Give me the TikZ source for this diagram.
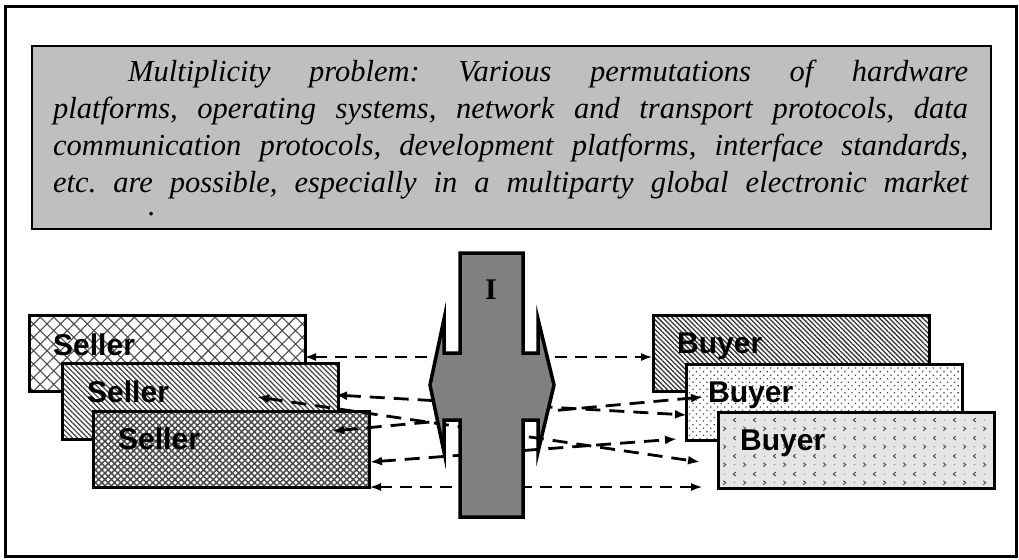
\documentclass[tikz,border=0pt]{standalone}
\usepackage{fontspec}
\setmainfont{Liberation Serif}
\setsansfont{Liberation Sans}
\usetikzlibrary{patterns,patterns.meta,arrows.meta}

\pgfdeclarepatternformonly{chevrons}{\pgfqpoint{0pt}{0pt}}{\pgfqpoint{20pt}{18pt}}{\pgfqpoint{20pt}{18pt}}{%
  \pgfsetlinewidth{0.9pt}%
  \pgfpathmoveto{\pgfqpoint{3.5pt}{6.5pt}}\pgfpathlineto{\pgfqpoint{6pt}{4.5pt}}\pgfpathlineto{\pgfqpoint{3.5pt}{2.5pt}}%
  \pgfpathmoveto{\pgfqpoint{16.5pt}{15.5pt}}\pgfpathlineto{\pgfqpoint{14pt}{13.5pt}}\pgfpathlineto{\pgfqpoint{16.5pt}{11.5pt}}%
  \pgfusepath{stroke}%
  \pgfpathcircle{\pgfqpoint{15pt}{4.5pt}}{0.5pt}%
  \pgfpathcircle{\pgfqpoint{5pt}{13.5pt}}{0.5pt}%
  \pgfusepath{fill}%
}

\begin{document}
\frenchspacing
\begin{tikzpicture}[x=1pt,y=-1pt,
  party/.style={draw=black, line width=3pt, minimum width=276pt, minimum height=76pt,
    inner sep=0pt, anchor=north west},
  partylabel/.style={anchor=base west, inner sep=0pt, font=\fontsize{30}{36}\selectfont\sffamily\bfseries},
  thinlink/.style={line width=1.3pt, dash pattern=on 12pt off 8pt,
    {Latex[length=11pt,width=8pt]}-{Latex[length=11pt,width=8pt]}},
  thicklink/.style={line width=2.8pt, dash pattern=on 15pt off 9pt,
    {Latex[length=12pt,width=9pt]}-{Latex[length=12pt,width=9pt]}},
  hub/.style={fill=gray, draw=black, line width=3.5pt, line join=miter, miter limit=10},
]
\useasboundingbox (0,0) rectangle (1019,559);
\draw[line width=3pt] (5.5,6.5) rectangle (1016.5,556);

% problem statement box
\node[draw=black, line width=2pt, fill=black!25, anchor=north west, inner sep=0pt,
  minimum width=958.5pt, minimum height=182.5pt] (tb) at (31,45.5) {};
\node[anchor=base west, inner sep=0pt] (txt) at (53,82) {%
  \begin{minipage}[t]{915pt}\fontsize{30.5}{36.7}\selectfont\itshape\frenchspacing
  \noindent\hspace*{75pt}\makebox[840pt][s]{Multiplicity problem: Various permutations of hardware}\\
  \makebox[915pt][s]{platforms, operating systems, network and transport protocols, data}\\
  \makebox[915pt][s]{communication protocols, development platforms, interface standards,}\\
  \makebox[915pt][s]{etc. are possible, especially in a multiparty global electronic market}
  \end{minipage}};
\node[anchor=base, inner sep=0pt, font=\fontsize{30.5}{36.7}\selectfont\itshape] (dot) at (152,215) {.};

% sellers
\node[party, preaction={fill=white}, pattern={Hatch[angle=45,distance=9.5pt,line width=1.1pt]}, pattern color=black!70] (s1) at (29,315) {};
\node[partylabel] (s1l) at (53,355) {Seller};
\node[party, preaction={fill=white}, pattern={Lines[angle=-45,distance=3.6pt,line width=1.2pt]}, pattern color=black!75] (s2) at (62,363) {};
\node[partylabel] (s2l) at (87,402) {Seller};
\node[party, preaction={fill=white}, pattern={Hatch[angle=45,distance=4.5pt,line width=1.5pt]}, pattern color=black!70] (s3) at (93,411) {};
\node[partylabel] (s3l) at (118,449) {Seller};

% buyers
\node[party, preaction={fill=white}, pattern={Lines[angle=-45,distance=3.4pt,line width=1.3pt]}, pattern color=black!80] (b1) at (653,315) {};
\node[partylabel] (b1l) at (677,353) {Buyer};
\node[party, preaction={fill=white}, pattern={Dots[angle=45,distance=5pt,radius=0.9pt]}, pattern color=black!75] (b2) at (685,363) {};
\node[partylabel] (b2l) at (708,402) {Buyer};
\node[party, preaction={fill=black!10}, pattern=chevrons, pattern color=black!75] (b3) at (717,411) {};
\node[partylabel] (b3l) at (740,450) {Buyer};

% connector end points
\coordinate (a0) at (305,357);  \coordinate (z0) at (652,357);
\coordinate (a1) at (335,395);  \coordinate (z1) at (687,415);
\coordinate (a2) at (257,397);  \coordinate (z2) at (700,462);
\coordinate (a3) at (332,431);  \coordinate (z3) at (703,397);
\coordinate (a4) at (370,462);  \coordinate (z4) at (677,439);
\coordinate (a5) at (370,487);  \coordinate (z5) at (702,487);

\draw[thinlink] (a0) -- (z0);
\draw[thicklink] (a1) -- (z1);
\draw[thicklink] (a2) -- (z2);
\draw[thicklink] (a3) -- (z3);
\draw[thicklink] (a4) -- (z4);
\draw[thinlink] (a5) -- (z5);

% intermediary
\draw[hub] (460,253) -- (523,253) -- (523,353) -- (538,353) -- (538,319) -- (554,385)
  -- (538,452) -- (538,420) -- (523,420) -- (523,517) -- (460,517) -- (460,420)
  -- (444,420) -- (444,452) -- (430,385) -- (444,319) -- (444,353) -- (460,353) -- cycle;
\node[inner sep=0pt, font=\fontsize{30}{36}\selectfont\bfseries] (ilabel) at (491,290) {I};
\end{tikzpicture}
\end{document}
